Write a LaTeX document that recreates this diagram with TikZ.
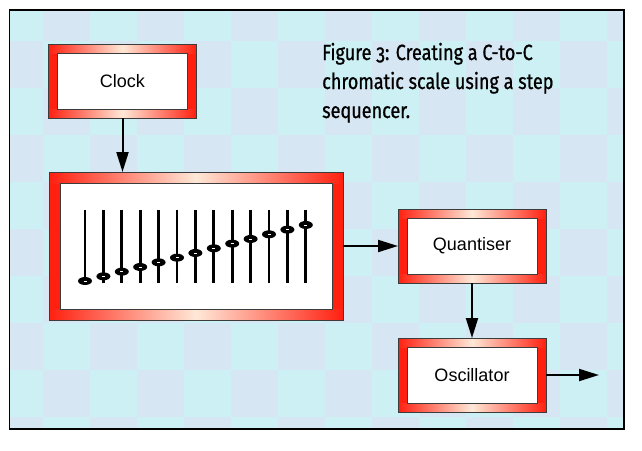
\documentclass[tikz,border=0pt]{standalone}
\usepackage{fontspec}
\setmainfont{Liberation Sans}
\newfontfamily\capfont[FakeStretch=0.82,FakeBold=0.8,Numbers=OldStyle]{Fira Sans}
\usetikzlibrary{arrows.meta,calc}

\definecolor{bgcyan}{RGB}{204,240,244}
\definecolor{bgpink}{RGB}{214,230,242}
\definecolor{boxred}{RGB}{255,32,16}
\definecolor{glow}{RGB}{255,232,215}
\definecolor{edge}{RGB}{60,60,60}

\pgfdeclarehorizontalshading{redglow}{100bp}{color(0bp)=(boxred); color(25bp)=(boxred); color(50bp)=(glow); color(75bp)=(boxred); color(100bp)=(boxred)}

\tikzset{
  panel/.style={fill=white, minimum width=130pt, minimum height=56pt, inner sep=0pt, outer sep=9pt, font=\fontsize{18}{20}\selectfont},
  flow/.style={line width=2pt, -{Triangle[length=20pt,width=12pt]}},
  slider/.style={line width=2.7pt},
  caption/.style={anchor=base west, inner sep=0pt, font=\capfont\fontsize{22}{29}\selectfont},
}

% red frame with a light glow on top and bottom
\newcommand{\redframe}[2]{%
  \fill[boxred] ($(#1.north west)+(0,#2)$) rectangle ($(#1.south west)+(#2,-#2)$)
                ($(#1.north east)+(-#2,#2)$) rectangle ($(#1.south east)+(0,-#2)$);
  \shade[shading=redglow] (#1.north west) rectangle ($(#1.north east)+(0,#2)$);
  \shade[shading=redglow] ($(#1.south west)+(0,-#2)$) rectangle (#1.south east);
  \draw[edge, line width=1pt] (#1.north west) rectangle (#1.south east)
        ($(#1.north west)+(#2,#2)$) rectangle ($(#1.south east)+(-#2,-#2)$);
}

\begin{document}
\begin{tikzpicture}[x=1pt, y=-1pt]
  \useasboundingbox (0,0) rectangle (642,450);

  % Checkered background
  \fill[bgcyan] (9.5,10) rectangle (624,429);
  \begin{scope}
    \clip (9.5,10) rectangle (624,429);
    \foreach \i in {0,...,13}
      \foreach \j in {-1,...,8} {
        \pgfmathparse{int(mod(\i+\j+20,2))}
        \ifnum\pgfmathresult=0
          \fill[bgpink] (-4+47*\i,41+47*\j) rectangle +(47,47);
        \fi
      }
  \end{scope}
  \draw[line width=1.3pt] (9.5,10) rectangle (624,429);

  % Caption
  \node[caption] (cap1) at (322,60) {Figure 3: Creating a C-to-C};
  \node[caption] (cap2) at (322,89) {chromatic scale using a step};
  \node[caption] (cap3) at (322,118) {sequencer.};

  % Blocks
  \node[panel] (clock) at (122.5,81) {Clock};
  \node[panel, minimum width=272pt, minimum height=126pt, outer sep=11pt] (seq) at (196,246) {};
  \node[panel] (quant) at (472,246) {Quantiser};
  \node[panel] (osc) at (472,375) {Oscillator};
  \coordinate (out) at (599,375);

  \redframe{clock}{9}
  \redframe{seq}{11}
  \redframe{quant}{9}
  \redframe{osc}{9}

  % Step sliders
  \foreach \k in {0,...,12} {
    \draw[slider] (85+18.4*\k,210) -- (85+18.4*\k,283);
    \fill (85+18.4*\k,281-4.67*\k) ellipse [x radius=7, y radius=4];
    \draw[white, line width=0.6pt] (83.5+18.4*\k,281-4.67*\k) -- +(3,0);
  }

  % Signal flow
  \draw[flow] (clock.south) -- (clock.south |- seq.north);
  \draw[flow] (seq.east) -- (seq.east -| quant.west);
  \draw[flow] (quant.south) -- (osc.north);
  \draw[flow] (osc.east) -- (out);
\end{tikzpicture}
\end{document}
